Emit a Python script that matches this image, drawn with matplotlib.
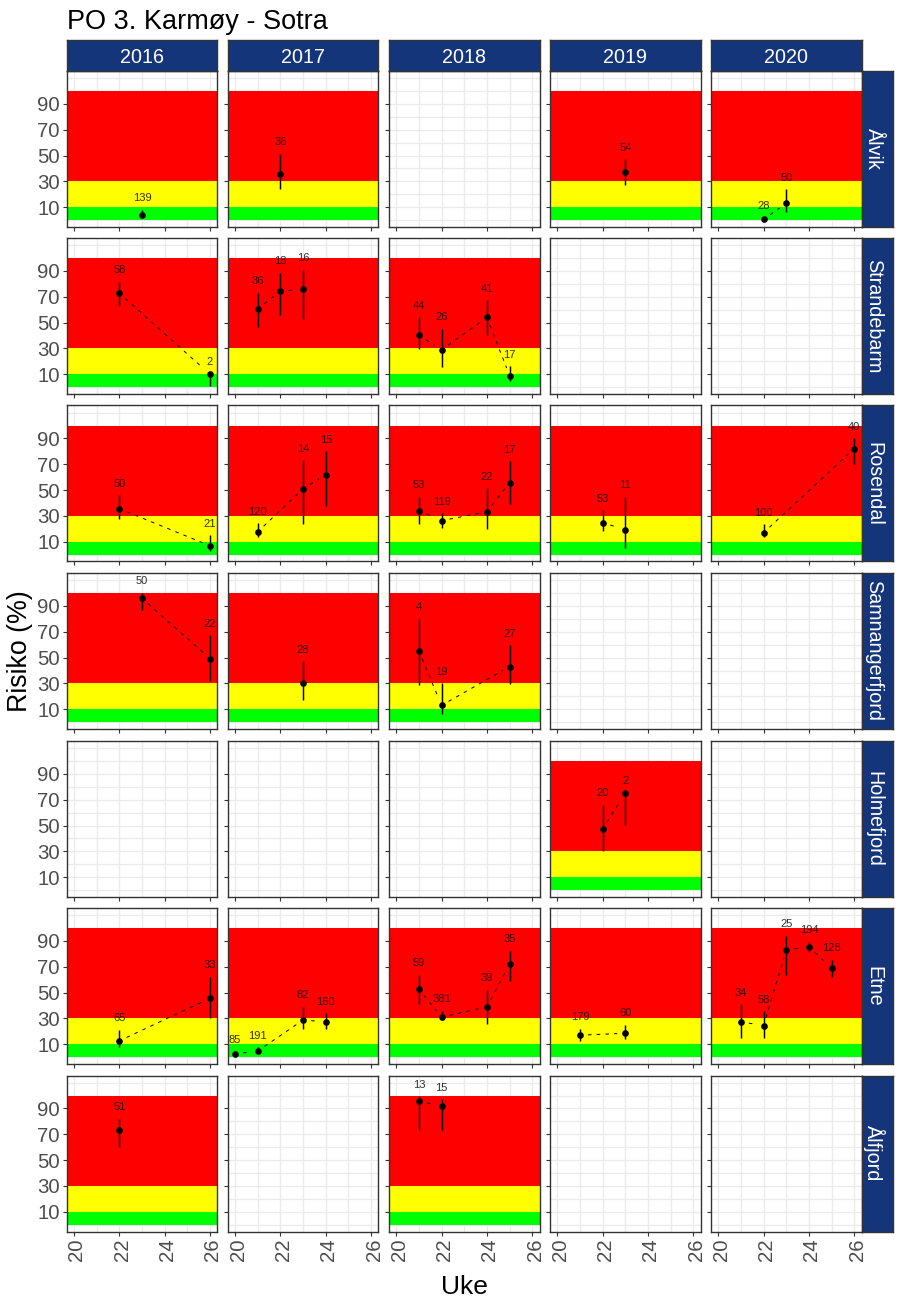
"""Risk per week, site and year, faceted the way ggplot would do it."""

import matplotlib
matplotlib.use("Agg")
import matplotlib.pyplot as plt
from matplotlib.transforms import ScaledTranslation
import pandas as pd

plt.rcParams["font.family"] = ["Liberation Sans", "DejaVu Sans"]

FIG_W, FIG_H, DPI = 900, 1300, 100

STRIP_BLUE = "#15357A"
EDGE = "#333333"
GRID = "#EBEBEB"
TICK_TEXT = "#4D4D4D"

years = [2016, 2017, 2018, 2019, 2020]
sites = ["Ålvik", "Strandebarm", "Rosendal", "Samnangerfjord", "Holmefjord", "Etne", "Ålfjord"]

band_low = [0, 10, 30]
band_high = [10, 30, 100]
band_colors = ["#00FF00", "#FFFF00", "#FF0000"]

# one entry per point, one line per site
point_site = [
    0, 0, 0, 0, 0,
    1, 1, 1, 1, 1, 1, 1, 1, 1,
    2, 2, 2, 2, 2, 2, 2, 2, 2, 2, 2, 2, 2,
    3, 3, 3, 3, 3, 3,
    4, 4,
    5, 5, 5, 5, 5, 5, 5, 5, 5, 5, 5, 5, 5, 5, 5, 5, 5,
    6, 6, 6,
]
point_year = [
    2016, 2017, 2019, 2020, 2020,
    2016, 2016, 2017, 2017, 2017, 2018, 2018, 2018, 2018,
    2016, 2016, 2017, 2017, 2017, 2018, 2018, 2018, 2018, 2019, 2019, 2020, 2020,
    2016, 2016, 2017, 2018, 2018, 2018,
    2019, 2019,
    2016, 2016, 2017, 2017, 2017, 2017, 2018, 2018, 2018, 2018, 2019, 2019, 2020, 2020, 2020, 2020, 2020,
    2016, 2018, 2018,
]
point_week = [
    23, 22, 23, 22, 23,
    22, 26, 21, 22, 23, 21, 22, 24, 25,
    22, 26, 21, 23, 24, 21, 22, 24, 25, 22, 23, 22, 26,
    23, 26, 23, 21, 22, 25,
    22, 23,
    22, 26, 20, 21, 23, 24, 21, 22, 24, 25, 21, 23, 21, 22, 23, 24, 25,
    22, 21, 22,
]
point_risk = [
    3.8, 35.6, 37, 0.7, 13,
    72.8, 10, 60.8, 74.3, 76, 40, 29, 54, 9,
    35.6, 6.9, 17.8, 51, 62, 34, 26.3, 33.3, 55.8, 24.8, 19.3, 17, 82.2,
    95.9, 49.2, 30, 55, 13, 43,
    47.3, 75.2,
    12.6, 45.6, 2.5, 4.8, 28.8, 27.3, 52.6, 31, 39, 72, 17, 18.5, 27.3, 24.5, 83, 85.4, 69,
    73, 95.4, 92,
]
point_low = [
    2, 24.5, 27.5, 0, 6.4,
    62.8, 1, 46.6, 55.8, 52.8, 29.4, 15.7, 40.5, 5,
    27.3, 2.5, 13.6, 23.7, 37.7, 24, 20.4, 19.6, 39, 18.3, 5, 13.6, 70,
    86.7, 32, 17.4, 29, 6, 29.5,
    30.5, 50.6,
    7.7, 30, 1, 3.3, 21.6, 21.6, 41.5, 28.6, 26, 59.3, 12.6, 14.4, 15, 15, 64, 81.3, 62.4,
    60.5, 73.3, 73.3,
]
point_high = [
    8, 51.5, 47, 2, 24,
    81.8, 10.5, 73, 88.5, 91, 54, 45.4, 67.3, 16,
    46, 15, 24.2, 73, 80, 45, 32, 51.4, 72.4, 34.3, 45, 23.5, 90,
    100, 67.2, 47, 80, 30, 59.5,
    66, 75.5,
    21.4, 62.4, 4.6, 7.7, 39, 34, 63.7, 35.8, 52.3, 82.5, 21.9, 25, 41, 35.4, 94, 89.5, 75.4,
    81.8, 99.5, 97,
]
point_n = [
    139, 36, 54, 28, 50,
    58, 2, 36, 18, 16, 44, 26, 41, 17,
    50, 21, 120, 14, 15, 53, 119, 22, 17, 53, 11, 100, 40,
    50, 22, 28, 4, 19, 27,
    20, 2,
    65, 33, 85, 191, 82, 160, 59, 381, 39, 35, 179, 60, 34, 58, 25, 194, 128,
    51, 13, 15,
]

y_major = [10, 30, 50, 70, 90]
y_minor = [0, 20, 40, 60, 80, 100, 110]
x_major = [20, 22, 24, 26]
x_minor = [21, 23, 25]

# panel frame in pixels
col_left = [66.7, 227.9, 389, 550, 711]
col_width = 150.5
row_top = [71, 238, 405.5, 573, 741, 908, 1075.5]
row_height = 156
strip_top_h = 31
strip_right_w = 31


def px_axes(fig, left, top, width, height):
    return fig.add_axes([left / FIG_W, 1 - (top + height) / FIG_H, width / FIG_W, height / FIG_H])


def draw_strip(fig, left, top, width, height, text, rotation, tx, ty):
    ax = px_axes(fig, left, top, width, height)
    ax.set_facecolor(STRIP_BLUE)
    ax.set_xticks([])
    ax.set_yticks([])
    for spine in ax.spines.values():
        spine.set_color(EDGE)
        spine.set_linewidth(1.0)
    ax.text(tx, ty, text, transform=ax.transAxes, color="white", fontsize=14.2,
            ha="center", va="center", rotation=rotation)


df = pd.DataFrame({
    "site": point_site, "year": point_year, "week": point_week,
    "risk": point_risk, "low": point_low, "high": point_high, "n": point_n,
})

fig = plt.figure(figsize=(FIG_W / DPI, FIG_H / DPI), dpi=DPI, facecolor="white")
label_nudge = ScaledTranslation(3 / DPI, 0, fig.dpi_scale_trans)

for r, site in enumerate(sites):
    for c, year in enumerate(years):
        ax = px_axes(fig, col_left[c], row_top[r], col_width, row_height)
        ax.set_xlim(19.68, 26.32)
        ax.set_ylim(-5.3, 115.5)

        ax.set_xticks(x_major)
        ax.set_xticks(x_minor, minor=True)
        ax.set_yticks(y_major)
        ax.set_yticks(y_minor, minor=True)
        ax.grid(True, which="both", color=GRID, linewidth=1.0)
        ax.set_axisbelow(True)
        ax.tick_params(which="minor", length=0)
        ax.tick_params(which="major", length=2.6, width=0.8, color=EDGE, labelcolor=TICK_TEXT,
                       labelsize=14.7, labelleft=c == 0, labelbottom=r == len(sites) - 1, pad=2.5)
        ax.tick_params(axis="x", labelrotation=90)
        for label in ax.get_xticklabels():
            label.set_transform(label.get_transform() + label_nudge)
        for spine in ax.spines.values():
            spine.set_color(EDGE)
            spine.set_linewidth(1.0)
            spine.set_zorder(6)

        sub = df[(df["site"] == r) & (df["year"] == year)].sort_values("week")
        if sub.empty:
            continue

        for lo, hi, col in zip(band_low, band_high, band_colors):
            ax.axhspan(lo, hi, color=col, linewidth=0, zorder=1)

        # dashed line stops short of the points
        rows = list(sub.itertuples())
        for a, b in zip(rows[:-1], rows[1:]):
            ax.annotate("", xy=(b.week, b.risk), xytext=(a.week, a.risk),
                        arrowprops=dict(arrowstyle="-", color="black", lw=0.7,
                                        linestyle=(0, (3, 6)), shrinkA=6, shrinkB=6),
                        zorder=3)

        ax.vlines(sub["week"], sub["low"], sub["high"], color="black", linewidth=1.05, zorder=4)
        ax.plot(sub["week"], sub["risk"], "o", color="black", markersize=4.8,
                markeredgewidth=0, zorder=5)
        for row in rows:
            ax.text(row.week, row.high + 9, str(row.n), ha="center", va="center",
                    fontsize=8.0, color="black", alpha=0.8, zorder=5, clip_on=True)

for c, year in enumerate(years):
    draw_strip(fig, col_left[c], row_top[0] - strip_top_h, col_width, strip_top_h, str(year), 0, 0.5, 0.45)
for r, site in enumerate(sites):
    draw_strip(fig, col_left[-1] + col_width, row_top[r], strip_right_w, row_height, site, -90, 0.4, 0.5)

fig.text(67 / FIG_W, 1 - 22 / FIG_H, "PO 3. Karmøy - Sotra", fontsize=19.5, color="black",
         ha="left", va="center")
fig.text(20 / FIG_W, 1 - 651 / FIG_H, "Risiko (%)", fontsize=19.3, color="black",
         rotation=90, ha="center", va="center")
fig.text(464.5 / FIG_W, 1 - 1287 / FIG_H, "Uke", fontsize=19, color="black",
         ha="center", va="center")

fig.savefig("out.png", dpi=DPI, facecolor="white")
plt.close(fig)
